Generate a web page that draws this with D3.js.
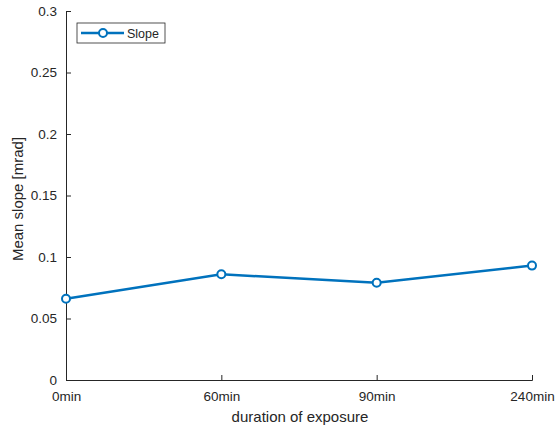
<!DOCTYPE html>
<html lang="en">
<head>
<meta charset="UTF-8">
<title>Mean slope</title>
<script src="https://cdnjs.cloudflare.com/ajax/libs/d3/7.8.5/d3.min.js"></script>
<style>
  body { margin: 0; background: #fff; }
  text { font-family: "Liberation Sans", Arial, sans-serif; fill: #262626; }
</style>
</head>
<body>
<div id="chart"></div>
<script>
  var categories = ["0min", "60min", "90min", "240min"];
  var slope = [0.066, 0.086, 0.079, 0.093];
  var yTicks = [0, 0.05, 0.1, 0.15, 0.2, 0.25, 0.3];

  var width = 559, height = 432;
  var margin = { top: 11, right: 27, bottom: 52, left: 66 };
  var innerW = width - margin.left - margin.right;
  var innerH = height - margin.top - margin.bottom;
  var color = "#0072BD";
  var axisColor = "#262626";

  var svg = d3.select("#chart").append("svg")
    .attr("width", width)
    .attr("height", height);

  var g = svg.append("g")
    .attr("transform", "translate(" + margin.left + "," + margin.top + ")");

  var x = d3.scalePoint().domain(categories).range([0, innerW]);
  var y = d3.scaleLinear().domain([0, 0.3]).range([innerH, 0]);

  // axes, ticks pointing inward like matlab
  var xAxis = g.append("g")
    .attr("transform", "translate(0," + innerH + ")")
    .call(d3.axisBottom(x).tickSize(-5).tickPadding(11));
  var yAxis = g.append("g")
    .call(d3.axisLeft(y).tickValues(yTicks).tickSize(-5).tickPadding(9)
      .tickFormat(function (d) { return String(+d.toFixed(2)); }));

  [xAxis, yAxis].forEach(function (a) {
    a.select(".domain").attr("stroke", axisColor).attr("stroke-width", 1);
    a.selectAll(".tick line").attr("stroke", axisColor);
    a.selectAll(".tick text").style("font-size", "13.5px").attr("fill", axisColor);
  });

  var line = d3.line()
    .x(function (d, i) { return x(categories[i]); })
    .y(function (d) { return y(d); });

  g.append("path")
    .datum(slope)
    .attr("fill", "none")
    .attr("stroke", color)
    .attr("stroke-width", 2.5)
    .attr("d", line);

  g.selectAll("circle.pt")
    .data(slope)
    .enter()
    .append("circle")
    .attr("class", "pt")
    .attr("cx", function (d, i) { return x(categories[i]); })
    .attr("cy", function (d) { return y(d); })
    .attr("r", 4)
    .attr("fill", "#fff")
    .attr("stroke", color)
    .attr("stroke-width", 2);

  // axis labels
  svg.append("text")
    .attr("x", 300)
    .attr("y", 422)
    .attr("text-anchor", "middle")
    .style("font-size", "15px")
    .text("duration of exposure");

  svg.append("text")
    .attr("transform", "translate(23,199) rotate(-90)")
    .attr("text-anchor", "middle")
    .style("font-size", "15px")
    .text("Mean slope [mrad]");

  // legend
  var leg = svg.append("g").attr("transform", "translate(77,23)");
  leg.append("rect")
    .attr("width", 88).attr("height", 20)
    .attr("fill", "#fff").attr("stroke", axisColor).attr("stroke-width", 0.8);
  leg.append("line")
    .attr("x1", 4).attr("x2", 47).attr("y1", 10).attr("y2", 10)
    .attr("stroke", color).attr("stroke-width", 2.5);
  leg.append("circle")
    .attr("cx", 26).attr("cy", 10).attr("r", 4)
    .attr("fill", "#fff").attr("stroke", color).attr("stroke-width", 2);
  leg.append("text")
    .attr("x", 50).attr("y", 15)
    .style("font-size", "12.5px")
    .text("Slope");
</script>
</body>
</html>
